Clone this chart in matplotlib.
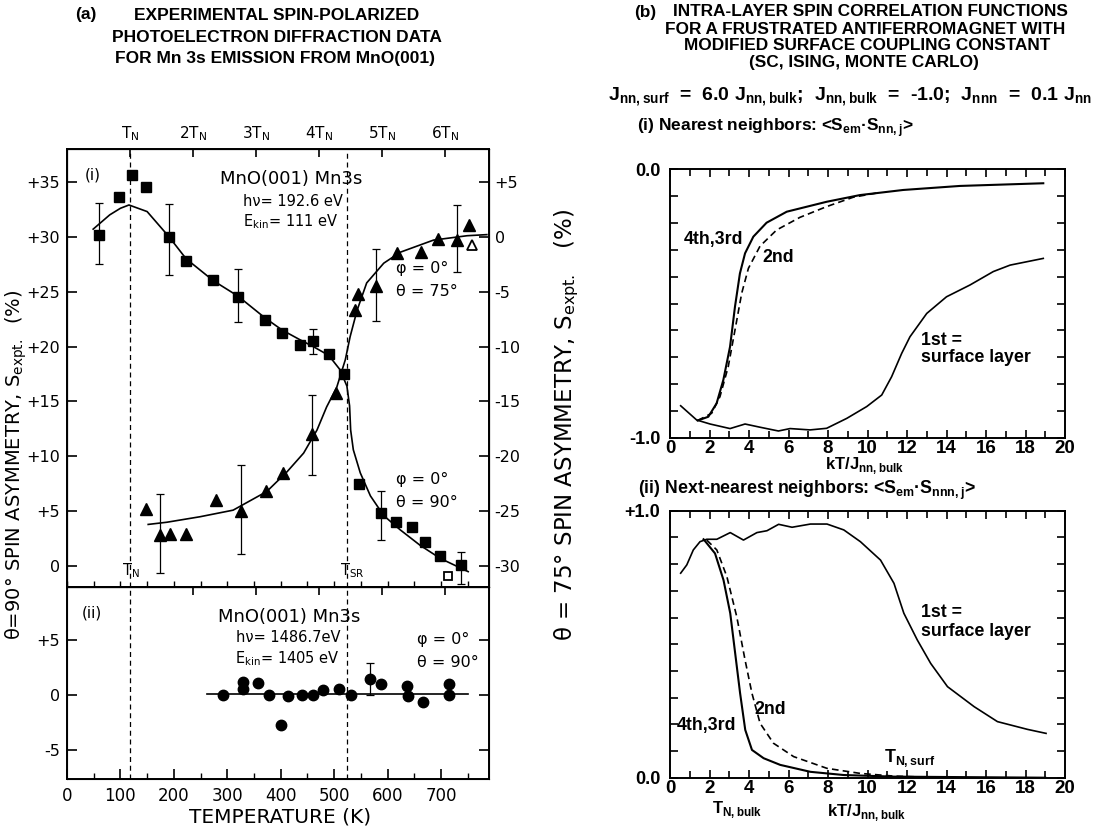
import matplotlib
matplotlib.use('Agg')
import matplotlib.pyplot as plt
from matplotlib.ticker import FixedLocator, MultipleLocator
import numpy as np

plt.rcParams['font.family'] = 'DejaVu Sans'
plt.rcParams['mathtext.fontset'] = 'custom'
plt.rcParams['mathtext.rm'] = 'DejaVu Sans'
plt.rcParams['mathtext.it'] = 'DejaVu Sans:italic'
plt.rcParams['mathtext.bf'] = 'Liberation Sans:bold'

# ---------------- data, panel (a) ----------------
T_N = 118
T_SR = 524

# (i) theta = 90 deg, squares (left axis, %)
sq_T = [59, 97, 122, 147, 191, 223, 274, 320, 371, 403, 436, 461, 490, 519,
        547, 587, 615, 645, 671, 699, 738]
sq_S = [30.2, 33.6, 35.6, 34.5, 30.0, 27.8, 26.1, 24.5, 22.4, 21.2, 20.1, 20.5, 19.3, 17.5,
        7.5, 4.8, 4.0, 3.6, 2.2, 0.9, 0.1]
sq_err_T = [59, 191, 320, 461, 587, 738]
sq_err_S = [30.2, 30.0, 24.5, 20.5, 4.8, 0.1]
sq_err_lo = [27.5, 26.5, 22.2, 19.3, 2.4, -1.6]
sq_err_hi = [33.1, 33.0, 27.1, 21.6, 6.8, 1.3]
open_sq_T = [714]
open_sq_S = [-0.9]

fit90_T = [49, 80, 100, 116, 150, 191, 223, 274, 320, 371, 403, 437, 461, 490, 511, 524,
           529, 531, 536, 549, 568, 593, 624, 661, 699, 751]
fit90_S = [30.7, 32.0, 32.6, 32.9, 32.3, 30.0, 28.0, 26.0, 24.6, 22.6, 21.5, 20.6, 20.0, 19.2,
           17.9, 16.4, 14.6, 12.4, 10.6, 8.5, 6.4, 4.6, 3.3, 1.9, 0.7, -0.5]

# (i) theta = 75 deg, triangles (right axis, %)
tri_T = [147, 174, 192, 223, 278, 325, 373, 404, 458, 504, 539, 545, 579, 617, 663, 695, 730, 753]
tri_S = [-24.8, -27.2, -27.1, -27.1, -24.0, -25.0, -23.2, -21.5, -18.0, -14.2, -6.7, -5.2,
         -4.5, -1.5, -1.4, -0.2, -0.3, 1.1]
tri_err_T = [174, 325, 458, 579, 730]
tri_err_S = [-27.2, -25.0, -18.0, -4.5, -0.3]
tri_err_lo = [-30.6, -28.9, -21.7, -7.7, -3.2]
tri_err_hi = [-23.4, -20.8, -14.4, -1.1, 2.9]
open_tri_T = [758]
open_tri_S = [-0.7]

fit75_T = [152, 187, 249, 311, 374, 412, 443, 468, 486, 505, 521, 530, 543, 561, 593, 624,
           686, 749, 786]
fit75_S = [-26.2, -26.0, -25.5, -24.9, -23.2, -21.4, -19.7, -17.6, -15.5, -13.7, -11.2, -9.1,
           -6.7, -4.2, -2.4, -1.4, -0.3, 0.1, 0.2]

# (ii) hv = 1486.7 eV, circles
circ_T = [292, 330, 330, 358, 378, 400, 413, 439, 460, 480, 509, 531, 568, 587, 636, 638,
          666, 716, 716]
circ_S = [0.0, 1.2, 0.6, 1.1, 0.0, -2.7, -0.1, 0.0, 0.0, 0.5, 0.6, 0.0, 1.5, 1.0, 0.8, -0.1,
          -0.6, 1.0, 0.0]
circ_err_T = [568]
circ_err_S = [1.5]
circ_err_lo = [0.0]
circ_err_hi = [2.9]
fit_ii_T = [263, 751]
fit_ii_S = [0.1, 0.1]

# ---------------- data, panel (b) ----------------
# (i) nearest neighbours
nn1_x = [0.54, 1.35, 2.03, 3.04, 3.80, 4.56, 5.49, 6.08, 7.09, 7.93, 8.95, 9.96, 10.72,
         11.22, 11.73, 12.15, 13.0, 14.0, 15.19, 16.37, 17.22, 18.9]
nn1_y = [-0.881, -0.934, -0.949, -0.966, -0.949, -0.961, -0.975, -0.966, -0.971, -0.965,
         -0.928, -0.884, -0.841, -0.773, -0.686, -0.624, -0.537, -0.475, -0.431, -0.381,
         -0.357, -0.332]
nn34_x = [1.40, 1.94, 2.36, 2.70, 3.04, 3.29, 3.54, 3.80, 4.22, 4.89, 5.91, 7.93, 9.62,
          11.81, 14.68, 18.9]
nn34_y = [-0.936, -0.922, -0.872, -0.785, -0.661, -0.512, -0.388, -0.313, -0.251, -0.199,
          -0.158, -0.121, -0.096, -0.077, -0.062, -0.052]
nn2_x = [1.40, 2.11, 2.53, 2.95, 3.29, 3.63, 3.97, 4.56, 5.40, 6.58, 7.93, 9.28, 10.5]
nn2_y = [-0.936, -0.909, -0.847, -0.735, -0.599, -0.462, -0.369, -0.286, -0.226, -0.179,
         -0.139, -0.104, -0.088]

# (ii) next-nearest neighbours
nnn1_x = [0.54, 0.85, 1.18, 1.52, 1.86, 2.37, 3.05, 3.72, 4.40, 4.91, 5.50, 6.18, 7.11,
          7.95, 8.80, 9.64, 10.66, 11.34, 11.84, 12.52, 13.20, 14.05, 15.40, 16.58, 18.1, 19.04]
nnn1_y = [0.766, 0.797, 0.853, 0.884, 0.893, 0.893, 0.918, 0.890, 0.918, 0.925, 0.949, 0.938,
          0.950, 0.950, 0.928, 0.884, 0.815, 0.728, 0.616, 0.516, 0.428, 0.341, 0.266, 0.210,
          0.181, 0.166]
nnn34_x = [1.70, 2.28, 2.71, 3.05, 3.30, 3.55, 3.81, 4.15, 4.74, 5.58, 7.11, 8.8, 11.34, 19.0]
nnn34_y = [0.893, 0.840, 0.740, 0.616, 0.466, 0.316, 0.179, 0.104, 0.073, 0.048, 0.022,
           0.010, 0.004, 0.0]
nnn2_x = [1.86, 2.37, 2.88, 3.38, 3.80, 4.15, 4.56, 5.24, 6.26, 7.95, 9.64, 11.34, 13.0]
nnn2_y = [0.89, 0.853, 0.753, 0.603, 0.441, 0.316, 0.204, 0.129, 0.079, 0.035, 0.016,
          0.006, 0.002]

W, H = 1104, 830


def fx(px):
    return px / W


def fy(py):
    return 1 - py / H


fig = plt.figure(figsize=(11.04, 8.3), dpi=100)

# ================= panel (a) =================
ax1 = fig.add_axes([fx(67), fy(587), fx(489) - fx(67), fy(149) - fy(587)])
ax2 = fig.add_axes([fx(67), fy(779), fx(489) - fx(67), fy(587) - fy(779)])
for ax in (ax1, ax2):
    ax.set_xlim(0, 790)
    for s in ax.spines.values():
        s.set_linewidth(1.4)
    ax.axvline(T_N, color='black', lw=0.9, ls=(0, (4, 3)))
    ax.axvline(T_SR, color='black', lw=0.9, ls=(0, (4, 3)))

ax1.set_ylim(-1.9, 38)
ax1.set_yticks(range(0, 36, 5))
ax1.set_yticklabels(['0'] + ['+%d' % v for v in range(5, 36, 5)], fontsize=11.5)
ax1.xaxis.set_major_locator(MultipleLocator(50))
ax1.tick_params(axis='x', direction='in', length=4, width=1, labelbottom=False)
ax1.tick_params(axis='y', direction='in', length=7, width=1.2, pad=5)

ax1r = ax1.twinx()
ax1r.set_ylim(-31.9, 8)
ax1r.set_yticks(range(-30, 6, 5))
ax1r.set_yticklabels(['%d' % v for v in range(-30, 1, 5)] + ['+5'], fontsize=11.5)
ax1r.tick_params(axis='y', direction='in', length=7, width=1.2, pad=4)

ax1t = ax1.twiny()
ax1t.set_xlim(0, 790)
ax1t.set_xticks([k * T_N for k in range(1, 7)])
ax1t.set_xticklabels(['T$_{\\mathrm{N}}$'] + ['%dT$_{\\mathrm{N}}$' % k for k in range(2, 7)],
                     fontsize=11)
ax1t.tick_params(axis='x', direction='in', length=6, width=1.2, pad=4)

# fits
ax1.plot(fit90_T, fit90_S, color='black', lw=1.2)
ax1r.plot(fit75_T, fit75_S, color='black', lw=1.2)

# squares
ax1.plot(sq_T, sq_S, 's', color='black', ms=7)
ax1.errorbar(sq_err_T, sq_err_S,
             yerr=[np.array(sq_err_S) - np.array(sq_err_lo), np.array(sq_err_hi) - np.array(sq_err_S)],
             fmt='none', ecolor='black', elinewidth=0.9, capsize=3, capthick=0.9)
ax1.plot(open_sq_T, open_sq_S, 's', mfc='white', mec='black', mew=1.3, ms=6)

# triangles
ax1r.plot(tri_T, tri_S, '^', color='black', ms=8)
ax1r.errorbar(tri_err_T, tri_err_S,
              yerr=[np.array(tri_err_S) - np.array(tri_err_lo), np.array(tri_err_hi) - np.array(tri_err_S)],
              fmt='none', ecolor='black', elinewidth=0.9, capsize=3, capthick=0.9)
ax1r.plot(open_tri_T, open_tri_S, '^', mfc='white', mec='black', mew=1.3, ms=7)

ax1.text(49, 35.6, '(i)', fontsize=11, ha='center', va='center')
ax1.text(419, 35.3, 'MnO(001) Mn3s', fontsize=13, ha='center', va='center')
ax1.text(423, 33.2, 'h\u03bd= 192.6 eV', fontsize=10.5, ha='center', va='center')
ax1.text(418, 31.4, 'E$_{\\mathrm{kin}}$= 111 eV', fontsize=10.5, ha='center', va='center')
ax1.text(616, 27.1, '\u03c6 = 0\u00b0', fontsize=11.5, ha='left', va='center')
ax1.text(616, 25.0, '\u03b8 = 75\u00b0', fontsize=11.5, ha='left', va='center')
ax1.text(616, 7.9, '\u03c6 = 0\u00b0', fontsize=11.5, ha='left', va='center')
ax1.text(616, 5.8, '\u03b8 = 90\u00b0', fontsize=11.5, ha='left', va='center')
ax1.text(T_N + 2, -0.4, 'T$_{\\mathrm{N}}$', fontsize=10.5, ha='center', va='center')
ax1.text(T_SR + 10, -0.4, 'T$_{\\mathrm{SR}}$', fontsize=10.5, ha='center', va='center')

# (ii)
ax2.set_ylim(-7.6, 9.8)
ax2.set_yticks([-5, 0, 5])
ax2.set_yticklabels(['-5', '0', '+5'], fontsize=11.5)
ax2.set_xticks(range(0, 701, 100))
ax2.set_xticklabels([str(v) for v in range(0, 701, 100)], fontsize=12)
ax2.xaxis.set_minor_locator(MultipleLocator(50))
ax2.tick_params(axis='x', which='major', direction='in', length=7, width=1.2, pad=6)
ax2.tick_params(axis='x', which='minor', direction='in', length=4, width=1)
ax2.tick_params(axis='y', direction='in', length=7, width=1.2, right=True, pad=5)
ax2t = ax2.twiny()
ax2t.set_xlim(0, 790)
ax2t.set_xticks([k * T_N for k in range(2, 7)])
ax2t.set_xticklabels([])
ax2t.tick_params(axis='x', direction='in', length=6, width=1.2)

ax2.plot(fit_ii_T, fit_ii_S, color='black', lw=1.2)
ax2.errorbar(circ_err_T, circ_err_S,
             yerr=[np.array(circ_err_S) - np.array(circ_err_lo), np.array(circ_err_hi) - np.array(circ_err_S)],
             fmt='none', ecolor='black', elinewidth=0.9, capsize=3, capthick=0.9)
ax2.plot(circ_T, circ_S, 'o', color='black', ms=7.5)

ax2.text(47, 7.4, '(ii)', fontsize=11, ha='center', va='center')
ax2.text(416, 7.1, 'MnO(001) Mn3s', fontsize=13, ha='center', va='center')
ax2.text(414, 5.2, 'h\u03bd= 1486.7eV', fontsize=10.5, ha='center', va='center')
ax2.text(412, 3.3, 'E$_{\\mathrm{kin}}$= 1405 eV', fontsize=10.5, ha='center', va='center')
ax2.text(656, 5.0, '\u03c6 = 0\u00b0', fontsize=11.5, ha='left', va='center')
ax2.text(656, 3.0, '\u03b8 = 90\u00b0', fontsize=11.5, ha='left', va='center')

fig.text(fx(280), fy(817), 'TEMPERATURE (K)', fontsize=14.5, ha='center', va='center')
fig.text(fx(16), fy(465), '\u03b8=90\u00b0 SPIN ASYMMETRY, S$_{\\mathrm{expt.}}$  (%)',
         fontsize=14, rotation=90, ha='center', va='center')
fig.text(fx(567), fy(425), '\u03b8 = 75\u00b0 SPIN ASYMMETRY, S$_{\\mathrm{expt.}}$   (%)',
         fontsize=16.5, rotation=90, ha='center', va='center')

tk = dict(fontsize=12.5, fontweight='bold', family='Liberation Sans', ha='center', va='center')
fig.text(fx(86), fy(15), '(a)', **tk)
fig.text(fx(277), fy(15), 'EXPERIMENTAL SPIN-POLARIZED', **tk)
fig.text(fx(277), fy(37), 'PHOTOELECTRON DIFFRACTION DATA', **tk)
fig.text(fx(275), fy(58), 'FOR Mn 3s EMISSION FROM MnO(001)', **tk)

# ================= panel (b) =================
bx1 = fig.add_axes([fx(670), fy(437.7), fx(1065) - fx(670), fy(169.3) - fy(437.7)])
bx2 = fig.add_axes([fx(670), fy(777.7), fx(1065) - fx(670), fy(510.7) - fy(777.7)])
bold = dict(family='Liberation Sans', fontweight='bold')
for ax in (bx1, bx2):
    ax.set_xlim(0, 20)
    ax.set_xticks(range(0, 21, 2))
    ax.set_xticklabels([str(v) for v in range(0, 21, 2)], fontsize=13.5, **bold)
    ax.xaxis.set_minor_locator(MultipleLocator(1))
    ax.tick_params(axis='both', which='both', direction='in', top=True, right=True, width=1.2)
    ax.tick_params(axis='x', which='major', length=6, pad=2)
    ax.tick_params(axis='y', which='major', length=6, pad=7)
    ax.tick_params(axis='both', which='minor', length=5)
    for s in ax.spines.values():
        s.set_linewidth(1.4)

bx1.set_ylim(-1.0, 0.0)
bx1.yaxis.set_major_locator(FixedLocator(np.round(np.arange(-1.0, 0.01, 0.1), 2)))
bx1.set_yticklabels(['-1.0'] + [''] * 9 + ['0.0'], fontsize=13, **bold)
bx2.set_ylim(0.0, 1.0)
bx2.yaxis.set_major_locator(FixedLocator(np.round(np.arange(0.0, 1.01, 0.1), 2)))
bx2.set_yticklabels(['0.0'] + [''] * 9 + ['+1.0'], fontsize=13, **bold)

bx1.plot(nn1_x, nn1_y, color='black', lw=1.2)
bx1.plot(nn34_x, nn34_y, color='black', lw=1.5)
bx1.plot(nn2_x, nn2_y, color='black', lw=1.2, ls=(0, (4, 2.5)))
bx2.plot(nnn1_x, nnn1_y, color='black', lw=1.2)
bx2.plot(nnn34_x, nnn34_y, color='black', lw=1.5)
bx2.plot(nnn2_x, nnn2_y, color='black', lw=1.2, ls=(0, (4, 2.5)))

lk = dict(fontsize=12.8, va='center', **bold)
bx1.text(2.18, -0.263, '4th,3rd', ha='center', **lk)
bx1.text(5.47, -0.327, '2nd', ha='center', **lk)
bx1.text(12.7, -0.636, '1st =', ha='left', **lk)
bx1.text(12.7, -0.703, 'surface layer', ha='left', **lk)
bx2.text(5.06, 0.254, '2nd', ha='center', **lk)
bx2.text(1.83, 0.197, '4th,3rd', ha='center', **lk)
bx2.text(12.7, 0.617, '1st =', ha='left', **lk)
bx2.text(12.7, 0.549, 'surface layer', ha='left', **lk)
bx2.text(12.15, 0.074, 'T$_{\\mathbf{N,surf}}$', ha='center', **lk)

xl = dict(fontsize=12, va='center', ha='center', **bold)
fig.text(fx(865), fy(466), 'kT/J$_{\\mathbf{nn,bulk}}$', **xl)
fig.text(fx(867), fy(813), 'kT/J$_{\\mathbf{nn,bulk}}$', **xl)
fig.text(fx(737), fy(810), 'T$_{\\mathbf{N,bulk}}$', **xl)

tb = dict(fontsize=12.4, ha='center', va='center', **bold)
fig.text(fx(645), fy(12), '(b)', **tb)
fig.text(fx(870), fy(12), 'INTRA-LAYER SPIN CORRELATION FUNCTIONS', **tb)
fig.text(fx(865), fy(29), 'FOR A FRUSTRATED ANTIFERROMAGNET WITH', **tb)
fig.text(fx(867), fy(46), 'MODIFIED SURFACE COUPLING CONSTANT', **tb)
fig.text(fx(864), fy(63), '(SC, ISING, MONTE CARLO)', **tb)
fig.text(fx(850), fy(97), 'J$_{\\mathbf{nn,surf}}$  =  6.0 J$_{\\mathbf{nn,bulk}}$;  '
         'J$_{\\mathbf{nn,bulk}}$  =  -1.0;  J$_{\\mathbf{nnn}}$  =  0.1 J$_{\\mathbf{nn}}$',
         fontsize=14, ha='center', va='center', **bold)
fig.text(fx(637), fy(128), '(i) Nearest neighbors: <S$_{\\mathbf{em}}$\u00b7S$_{\\mathbf{nn,j}}$>',
         fontsize=12.5, ha='left', va='center', **bold)
fig.text(fx(638), fy(490), '(ii) Next-nearest neighbors: <S$_{\\mathbf{em}}$\u00b7S$_{\\mathbf{nnn,j}}$>',
         fontsize=12.8, ha='left', va='center', **bold)

fig.savefig('out.png', dpi=100)
